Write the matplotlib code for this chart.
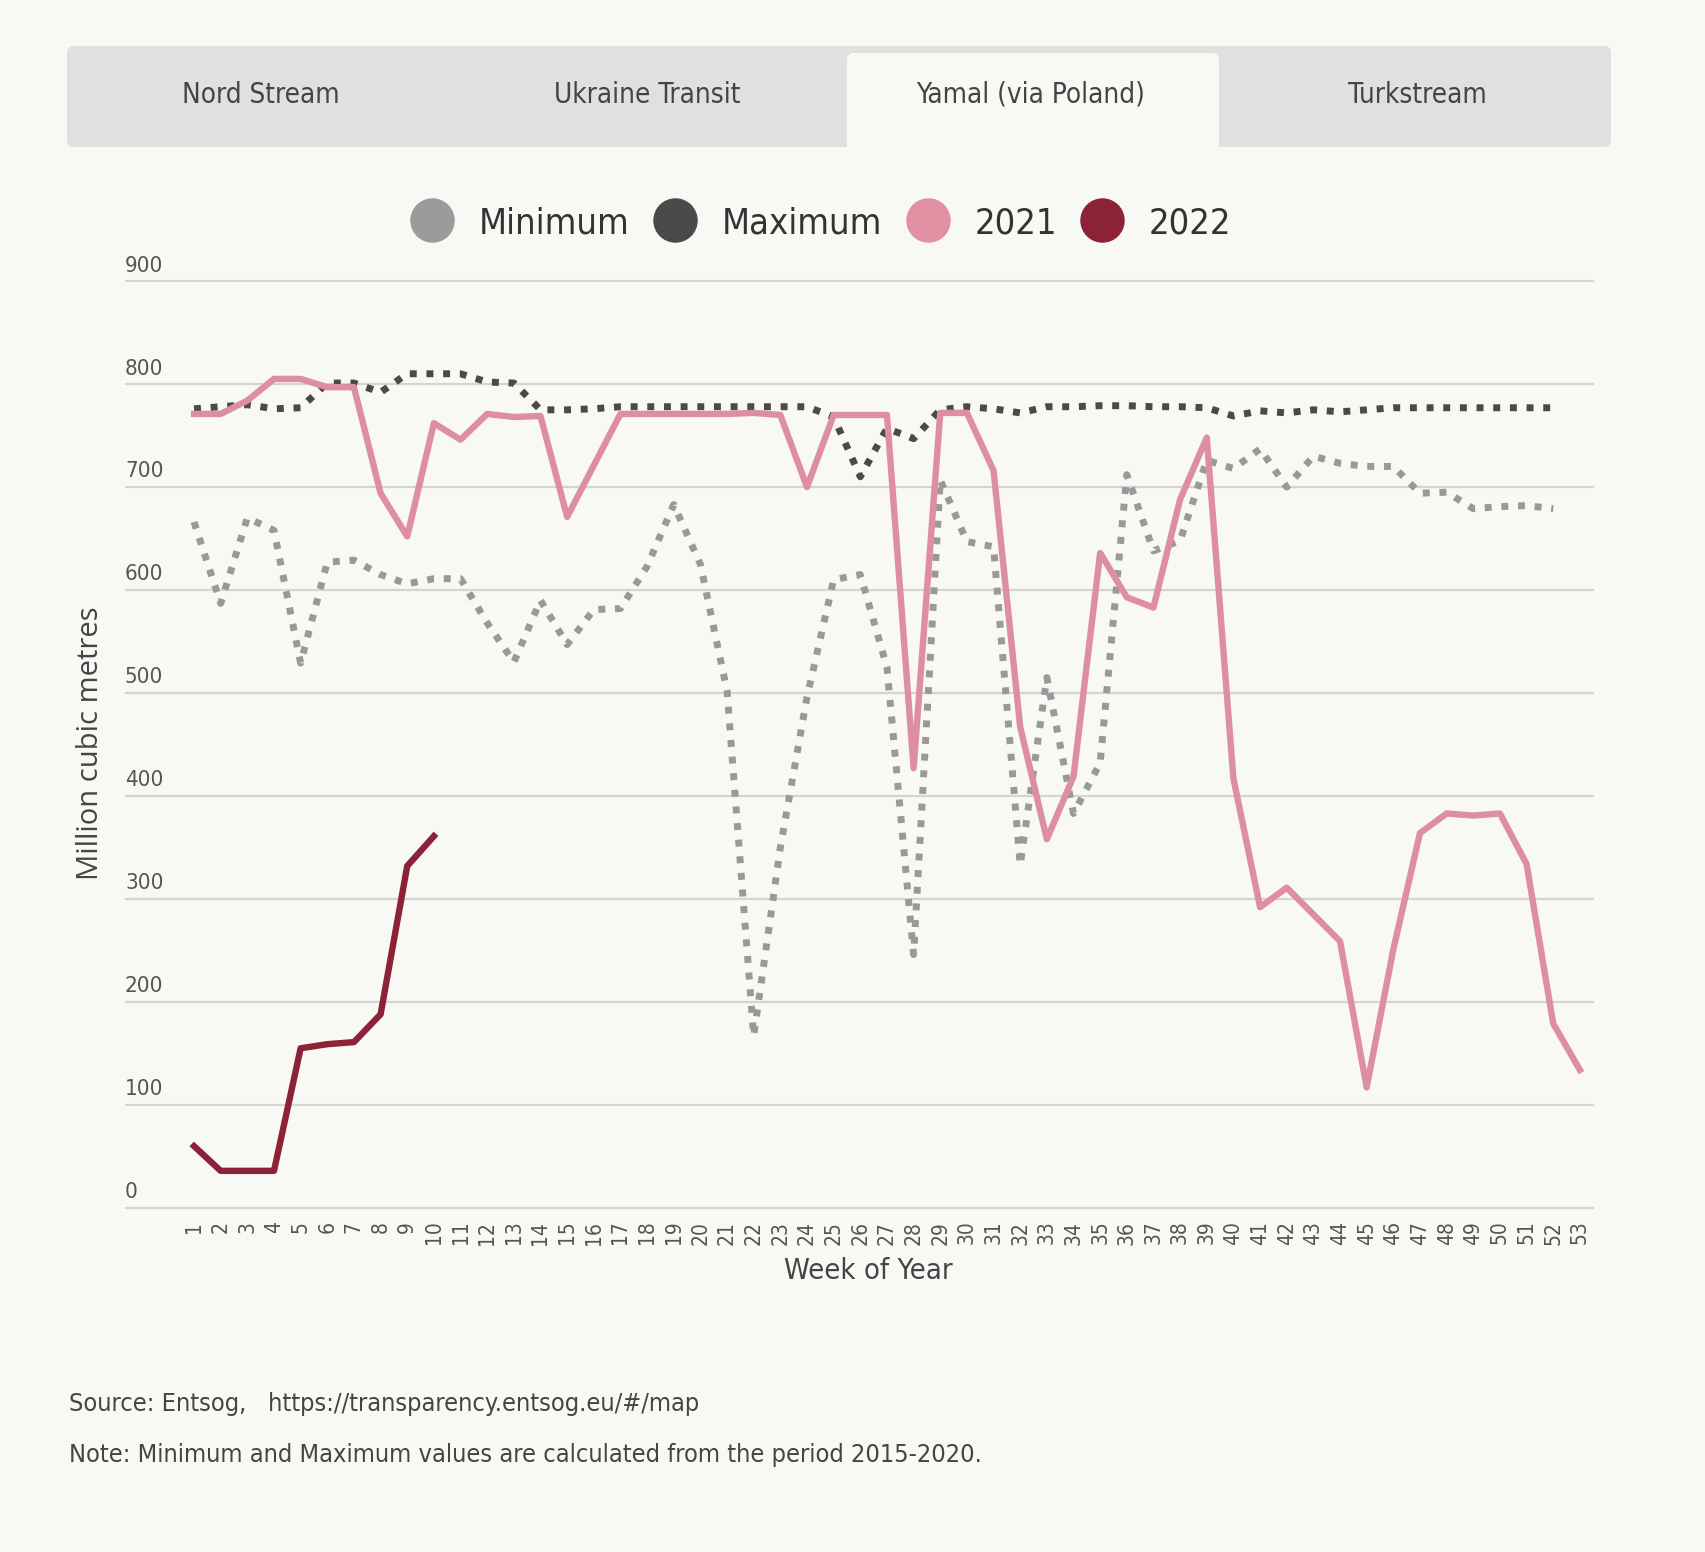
import matplotlib.pyplot as plt
from matplotlib.lines import Line2D
from matplotlib.patches import FancyBboxPatch

# data (million cubic metres per week)
weeks = list(range(1, 54))
weeks_min_max = list(range(1, 53))
weeks_2022 = list(range(1, 11))

minimum = [666, 587, 670, 658, 529, 627, 629, 615, 606, 611,
           611, 568, 530, 590, 547, 581, 582, 623, 683, 625,
           502, 167, 350, 496, 610, 615, 525, 246, 707, 647,
           642, 333, 515, 383, 432, 712, 638, 648, 726, 718,
           737, 700, 730, 723, 720, 720, 694, 695, 679, 681,
           682, 679]
maximum = [776, 778, 780, 776, 777, 801, 801, 792, 810, 810,
           810, 802, 801, 775, 775, 776, 778, 778, 778, 778,
           778, 778, 778, 778, 768, 710, 757, 747, 775, 778,
           776, 772, 778, 778, 779, 779, 778, 778, 777, 769,
           774, 772, 775, 773, 775, 777, 777, 777, 777, 777,
           777, 777]
y2021 = [771, 771, 784, 805, 805, 797, 797, 694, 652, 762,
         746, 771, 768, 769, 671, 721, 771, 771, 771, 771,
         771, 772, 770, 700, 770, 770, 770, 427, 772, 772,
         716, 467, 358, 419, 636, 593, 583, 688, 748, 417,
         292, 311, 285, 259, 117, 251, 364, 383, 381, 383,
         334, 179, 134]
y2022 = [60, 36, 36, 36, 155, 159, 161, 188, 332, 361]

tabs = ["Nord Stream", "Ukraine Transit", "Yamal (via Poland)", "Turkstream"]
yticks = [0, 100, 200, 300, 400, 500, 600, 700, 800, 900]

BG = "#F8F8F5"
W, H = 1706, 1552
plt.rcParams["font.family"] = ["DejaVu Sans"]
plt.rcParams["font.stretch"] = "condensed"

fig = plt.figure(figsize=(W / 100, H / 100), dpi=100, facecolor=BG)


def fx(x):
    return x / W


def fy(y):
    return 1 - y / H


# tab bar
bar = FancyBboxPatch((67 / 100, (H - 147) / 100), (1611 - 67) / 100, (147 - 46) / 100,
                     boxstyle="round,pad=0,rounding_size=0.07", transform=fig.dpi_scale_trans,
                     facecolor="#E0E0DE", edgecolor="none")
fig.patches.append(bar)
active = FancyBboxPatch((847 / 100, (H - 165) / 100), (1219 - 847) / 100, (165 - 53) / 100,
                        boxstyle="round,pad=0,rounding_size=0.07", transform=fig.dpi_scale_trans,
                        facecolor=BG, edgecolor="none")
fig.patches.append(active)
for name, cx in zip(tabs, [261, 647, 1031, 1417]):
    fig.text(fx(cx), fy(95), name, ha="center", va="center", fontsize=20, color="#444444")

# plot area
ax = fig.add_axes([fx(125), fy(1211), fx(1594) - fx(125), fy(278) - fy(1211)])
ax.set_facecolor(BG)
ax.set_xlim(-1.59, 53.53)
ax.set_ylim(-3, 903)
for s in ax.spines.values():
    s.set_visible(False)
ax.set_yticks(yticks)
ax.yaxis.grid(True, color="#D4D4D2", linewidth=1.6)
ax.tick_params(axis="y", length=0, labelleft=False)
for v in yticks:
    ax.annotate(str(v), xy=(0, v), xycoords=("axes fraction", "data"),
                xytext=(0, 4), textcoords="offset points",
                ha="left", va="bottom", fontsize=16, color="#555555")

ax.set_xticks(weeks)
ax.set_xticklabels([str(w) for w in weeks], rotation=90, fontsize=15, color="#555555")
ax.tick_params(axis="x", length=0, pad=7)

dot = (0, (1, 1.4))
ax.plot(weeks_min_max, minimum, color="#999999", lw=5, ls=dot, zorder=2)
ax.plot(weeks_min_max, maximum, color="#4A4A4A", lw=5, ls=dot, zorder=3)
ax.plot(weeks, y2021, color="#DD8EA1", lw=4.6, zorder=4)
ax.plot(weeks_2022, y2022, color="#8C2238", lw=4.6, zorder=5)

fig.text(fx(868), fy(1271), "Week of Year", ha="center", va="center", fontsize=21, color="#444444")
fig.text(fx(91), fy(743), "Million cubic metres", ha="center", va="center", rotation=90,
         fontsize=21, color="#444444", family=["Open Sans", "DejaVu Sans"], stretch="normal")

# legend
handles = [Line2D([], [], marker="o", ls="", ms=31, color=c)
           for c in ["#9B9B9B", "#4A4A4A", "#E090A2", "#8C2238"]]
fig.legend(handles, ["Minimum", "Maximum", "2021", "2022"], loc="center",
           bbox_to_anchor=(fx(822), fy(223)), ncol=4, frameon=False, fontsize=26,
           handlelength=1.1, handletextpad=0.75, columnspacing=0.7, labelcolor="#333333")

fig.text(fx(69), fy(1404), "Source: Entsog,   https://transparency.entsog.eu/#/map",
         ha="left", va="center", fontsize=18.2, color="#444444")
fig.text(fx(69), fy(1455), "Note: Minimum and Maximum values are calculated from the period 2015-2020.",
         ha="left", va="center", fontsize=18.2, color="#444444")

fig.savefig("out.png", dpi=100, facecolor=BG)
